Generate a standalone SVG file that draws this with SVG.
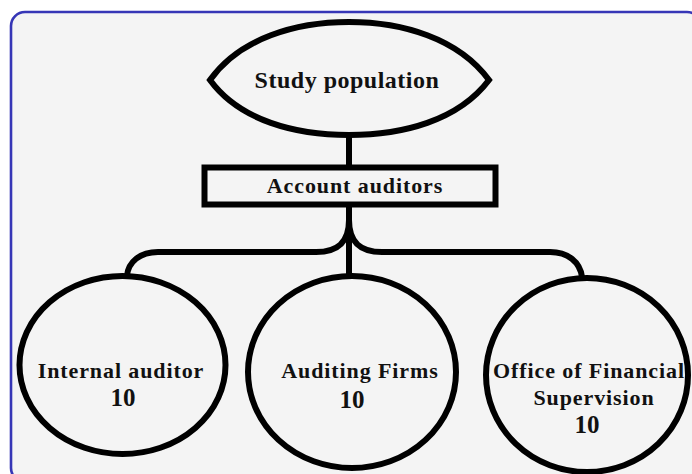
<svg xmlns="http://www.w3.org/2000/svg" width="692" height="474" viewBox="0 0 692 474">
<style>
.shape{fill:none;stroke:#000;stroke-width:6}
.conn{fill:none;stroke:#000;stroke-width:6;stroke-linecap:butt}
.lbl{font-family:"Liberation Serif","Times New Roman",serif;font-weight:bold;fill:#111;text-anchor:middle}
.t22{font-size:22px;letter-spacing:0.9px}
.num{font-size:25px}
</style>
<rect x="0" y="0" width="692" height="474" fill="#ffffff"/>
<rect id="frame" x="11" y="12" width="690" height="470" rx="14" ry="14" fill="#f4f4f4" stroke="#3636b6" stroke-width="2.6"/>
<g id="connectors">
<line class="conn" x1="349" y1="136" x2="349" y2="165" stroke-width="5"/>
<line class="conn" x1="349" y1="207" x2="349" y2="277"/>
<path class="conn" d="M349 220 C349 243 337 252 316 252 L158 252 C140 252 128 262 127 276"/>
<path class="conn" d="M349 220 C349 243 361 252 382 252 L550 252 C568 252 580 262 582 277"/>
</g>
<g id="study-population">
<path class="shape" d="M210 80 C240 38 296 22 349 22 C402 22 458 38 489 80 C458 121 402 135 349 135 C296 135 240 121 210 80 Z"/>
<text class="lbl" x="347" y="88" font-size="24" letter-spacing="0.5">Study population</text>
</g>
<g id="account-auditors">
<rect class="shape" x="204.5" y="167.5" width="291" height="37" stroke-width="7"/>
<text class="lbl t22" x="355" y="193">Account auditors</text>
</g>
<g id="internal-auditor">
<ellipse class="shape" cx="122.5" cy="365" rx="103" ry="89"/>
<text class="lbl t22" x="121" y="378">Internal auditor</text>
<text class="lbl num" x="123" y="406">10</text>
</g>
<g id="auditing-firms">
<ellipse class="shape" cx="352" cy="372" rx="104" ry="96"/>
<text class="lbl t22" x="360" y="378" letter-spacing="1.1">Auditing Firms</text>
<text class="lbl num" x="352" y="408">10</text>
</g>
<g id="office-financial-supervision">
<ellipse class="shape" cx="587" cy="375" rx="101" ry="97"/>
<text class="lbl t22" x="589" y="378" letter-spacing="0.6">Office of Financial</text>
<text class="lbl t22" x="594" y="405">Supervision</text>
<text class="lbl num" x="587" y="433">10</text>
</g>
</svg>
